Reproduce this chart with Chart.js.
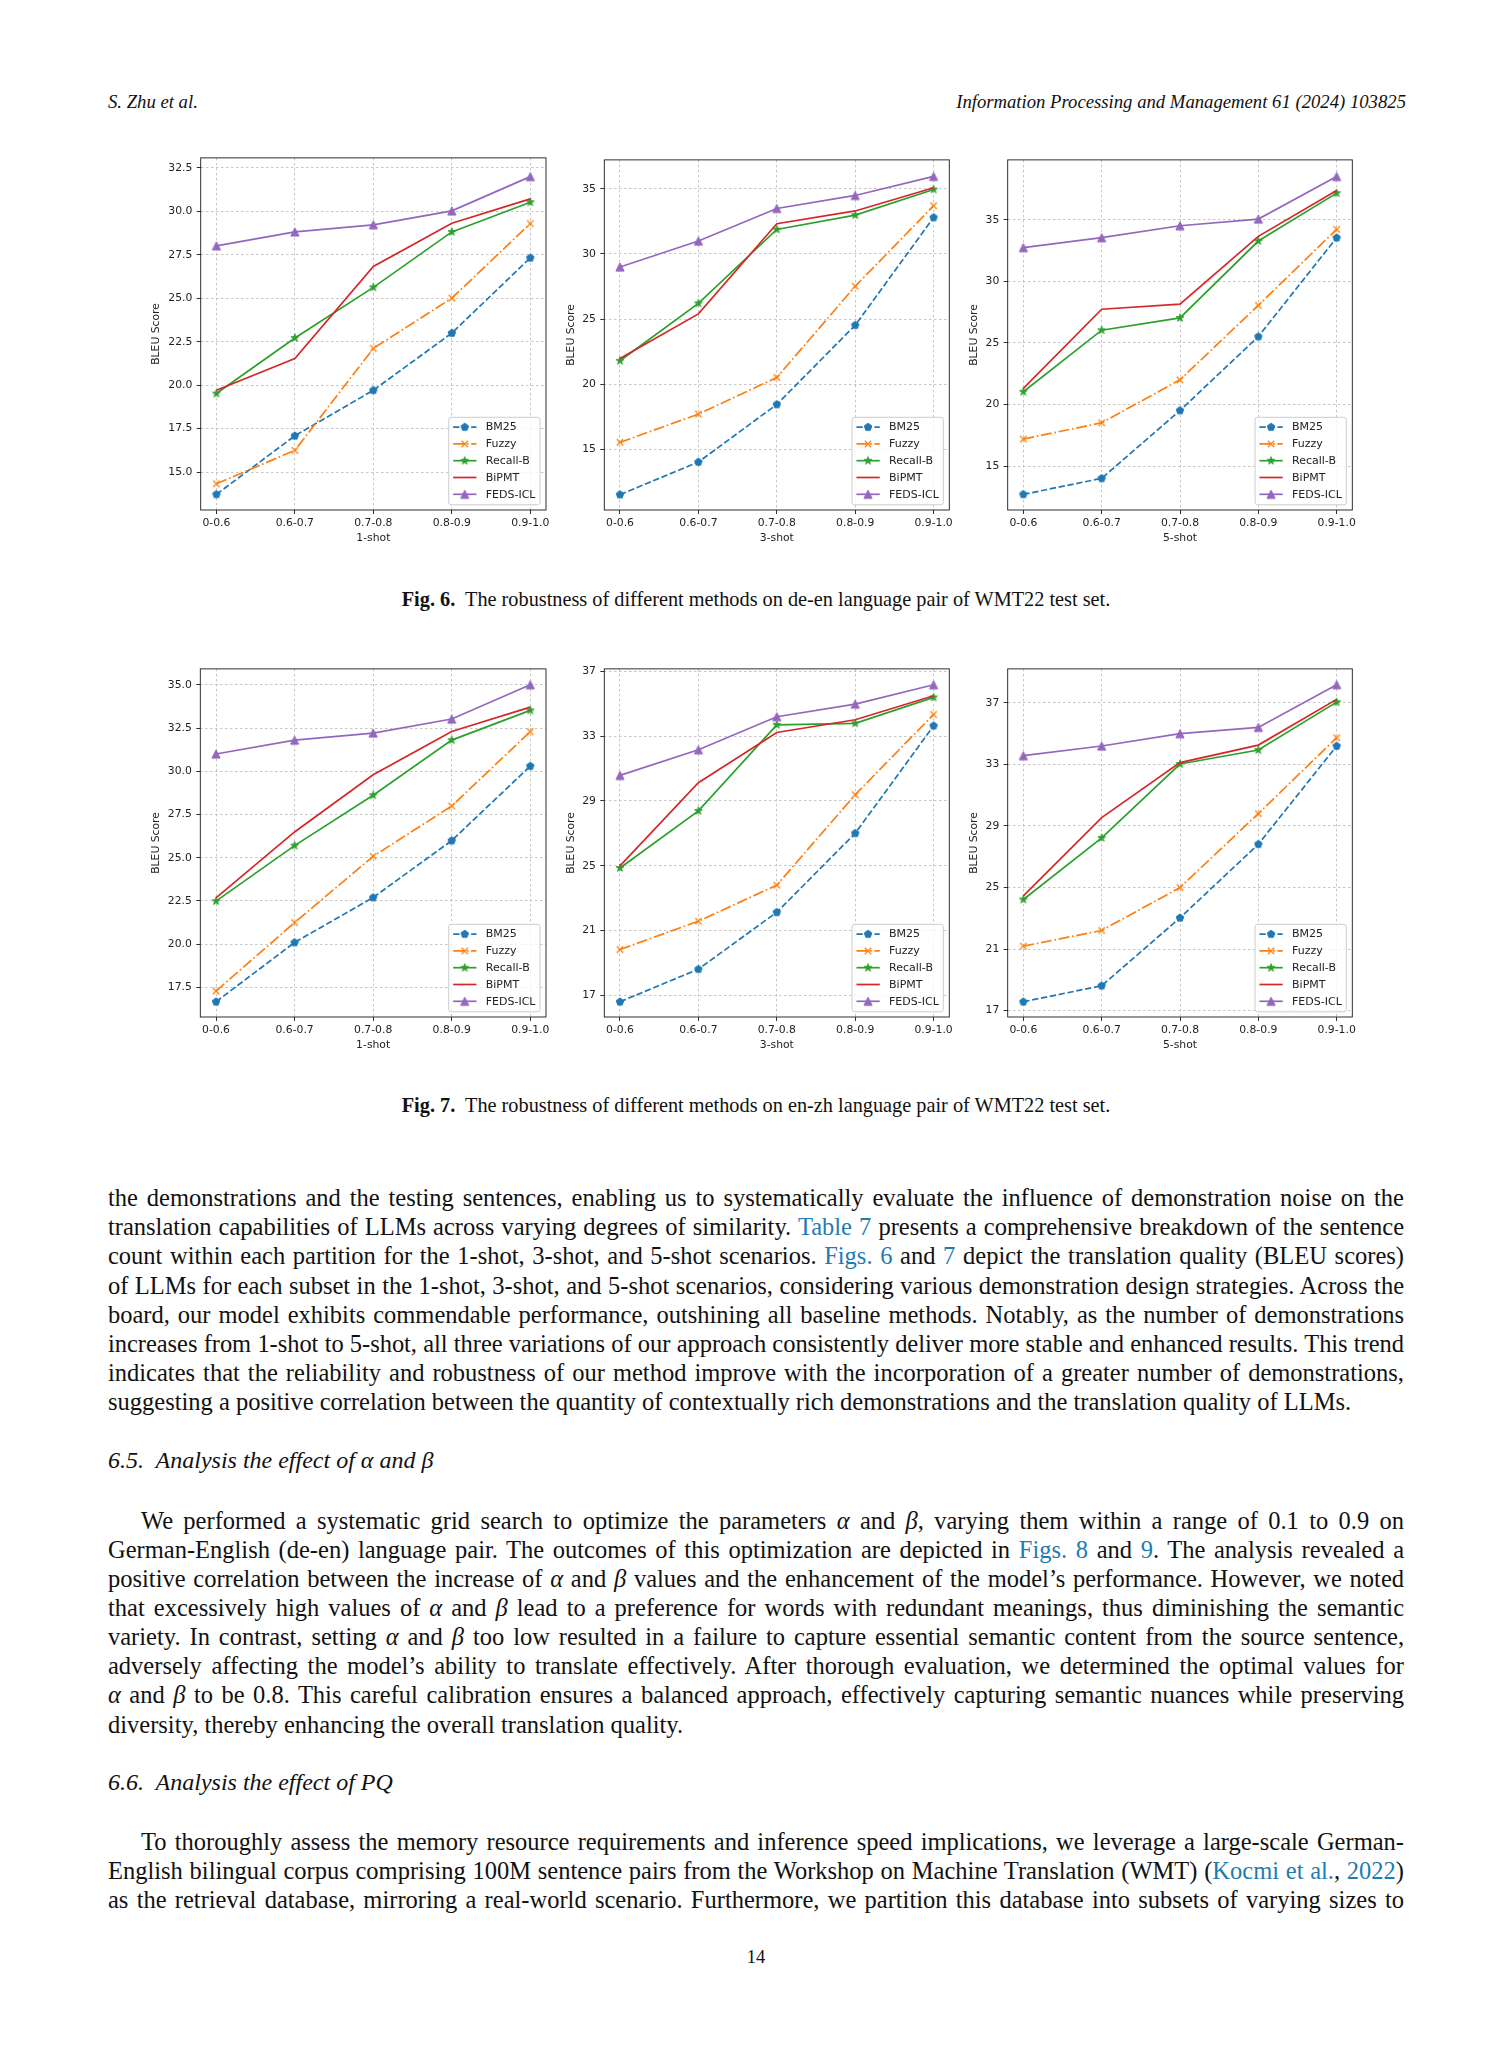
<!DOCTYPE html>
<html><head><meta charset="utf-8">
<script src="https://cdn.jsdelivr.net/npm/chart.js@4.4.0/dist/chart.umd.min.js"></script>
<style>
html,body{margin:0;padding:0;background:#fff;}
body{width:1512px;height:2063px;position:relative;overflow:hidden;font-family:"Liberation Serif","Times New Roman",serif;color:#111;}
.hdr{position:absolute;top:90px;font-size:18.7px;line-height:24px;font-style:italic;white-space:nowrap;}
.cap{position:absolute;left:0;width:1512px;text-align:center;font-size:20.3px;line-height:26px;white-space:nowrap;}
.ln{position:absolute;left:108px;width:1296px;font-size:24.5px;line-height:29px;white-space:nowrap;text-align:left;}
.ln.ind{left:141px;width:1263px;}
.hd{position:absolute;left:108px;font-size:24px;line-height:29px;font-style:italic;white-space:nowrap;}
.lk{color:#1f7bb0;}
.pg{position:absolute;left:0;width:1512px;text-align:center;top:1945px;font-size:18.5px;line-height:24px;}
canvas{position:absolute;}
</style>
</head><body>

<div class="hdr" style="left:108px;">S. Zhu et al.</div>
<div class="hdr" style="right:106px;">Information Processing and Management 61 (2024) 103825</div>

<div class="cap" style="top:586px;"><b>Fig. 6.</b>&nbsp; The robustness of different methods on de-en language pair of WMT22 test set.</div>
<div class="cap" style="top:1092px;"><b>Fig. 7.</b>&nbsp; The robustness of different methods on en-zh language pair of WMT22 test set.</div>

<div class="ln" style="top:1183px;">the demonstrations and the testing sentences, enabling us to systematically evaluate the influence of demonstration noise on the</div>
<div class="ln" style="top:1212px;">translation capabilities of LLMs across varying degrees of similarity. <span class="lk">Table 7</span> presents a comprehensive breakdown of the sentence</div>
<div class="ln" style="top:1241px;">count within each partition for the 1-shot, 3-shot, and 5-shot scenarios. <span class="lk">Figs. 6</span> and <span class="lk">7</span> depict the translation quality (BLEU scores)</div>
<div class="ln" style="top:1270.5px;">of LLMs for each subset in the 1-shot, 3-shot, and 5-shot scenarios, considering various demonstration design strategies. Across the</div>
<div class="ln" style="top:1299.7px;">board, our model exhibits commendable performance, outshining all baseline methods. Notably, as the number of demonstrations</div>
<div class="ln" style="top:1328.8px;">increases from 1-shot to 5-shot, all three variations of our approach consistently deliver more stable and enhanced results. This trend</div>
<div class="ln" style="top:1358px;">indicates that the reliability and robustness of our method improve with the incorporation of a greater number of demonstrations,</div>
<div class="ln last" style="top:1387px;">suggesting a positive correlation between the quantity of contextually rich demonstrations and the translation quality of LLMs.</div>

<div class="hd" style="top:1446px;">6.5.&nbsp; Analysis the effect of α and β</div>

<div class="ln ind" style="top:1505.5px;">We performed a systematic grid search to optimize the parameters <i>α</i> and <i>β</i>, varying them within a range of 0.1 to 0.9 on</div>
<div class="ln" style="top:1534.6px;">German-English (de-en) language pair. The outcomes of this optimization are depicted in <span class="lk">Figs. 8</span> and <span class="lk">9</span>. The analysis revealed a</div>
<div class="ln" style="top:1563.8px;">positive correlation between the increase of <i>α</i> and <i>β</i> values and the enhancement of the model’s performance. However, we noted</div>
<div class="ln" style="top:1592.9px;">that excessively high values of <i>α</i> and <i>β</i> lead to a preference for words with redundant meanings, thus diminishing the semantic</div>
<div class="ln" style="top:1622.1px;">variety. In contrast, setting <i>α</i> and <i>β</i> too low resulted in a failure to capture essential semantic content from the source sentence,</div>
<div class="ln" style="top:1651.2px;">adversely affecting the model’s ability to translate effectively. After thorough evaluation, we determined the optimal values for</div>
<div class="ln" style="top:1680.4px;"><i>α</i> and <i>β</i> to be 0.8. This careful calibration ensures a balanced approach, effectively capturing semantic nuances while preserving</div>
<div class="ln last" style="top:1709.5px;">diversity, thereby enhancing the overall translation quality.</div>

<div class="hd" style="top:1767.5px;">6.6.&nbsp; Analysis the effect of PQ</div>

<div class="ln ind" style="top:1826.6px;">To thoroughly assess the memory resource requirements and inference speed implications, we leverage a large-scale German-</div>
<div class="ln" style="top:1855.8px;">English bilingual corpus comprising 100M sentence pairs from the Workshop on Machine Translation (WMT) (<span class="lk">Kocmi et al.</span>, <span class="lk">2022</span>)</div>
<div class="ln" style="top:1884.9px;">as the retrieval database, mirroring a real-world scenario. Furthermore, we partition this database into subsets of varying sizes to</div>

<div class="pg">14</div>

<script>
// fit justified text lines (shrink letter spacing only where a line would overflow)
document.querySelectorAll('.ln').forEach(el => {
  const target = el.clientWidth;
  const span = document.createElement('span');
  while (el.firstChild) span.appendChild(el.firstChild);
  el.appendChild(span);
  const w = span.getBoundingClientRect().width;
  if (w > target - 3) {
    const n = span.textContent.length;
    el.style.letterSpacing = ((target - 3 - w) / n) + 'px';
  }
  if (!el.classList.contains('last')) { el.style.textAlign = 'justify'; el.style.textAlignLast = 'justify'; }
});

// ---------- data ----------
const categories = ['0-0.6', '0.6-0.7', '0.7-0.8', '0.8-0.9', '0.9-1.0'];
const methodNames = ['BM25', 'Fuzzy', 'Recall-B', 'BiPMT', 'FEDS-ICL'];
const shotLabels = ['1-shot', '3-shot', '5-shot'];

// Fig. 6 (de-en)
const deEn1_BM25    = [13.72, 17.09, 19.71, 23.00, 27.33];
const deEn1_Fuzzy   = [14.33, 16.25, 22.12, 25.01, 29.30];
const deEn1_RecallB = [19.52, 22.72, 25.63, 28.82, 30.53];
const deEn1_BiPMT   = [19.71, 21.53, 26.83, 29.32, 30.72];
const deEn1_FEDS    = [28.02, 28.82, 29.23, 30.03, 32.00];

const deEn3_BM25    = [11.53, 14.03, 18.45, 24.53, 32.80];
const deEn3_Fuzzy   = [15.54, 17.71, 20.52, 27.52, 33.70];
const deEn3_RecallB = [21.80, 26.21, 31.88, 32.98, 34.95];
const deEn3_BiPMT   = [21.97, 25.40, 32.32, 33.30, 35.08];
const deEn3_FEDS    = [29.00, 30.99, 33.49, 34.49, 35.95];

const deEn5_BM25    = [12.70, 14.00, 19.51, 25.51, 33.54];
const deEn5_Fuzzy   = [17.19, 18.51, 22.00, 28.05, 34.22];
const deEn5_RecallB = [21.03, 26.03, 27.03, 33.27, 37.16];
const deEn5_BiPMT   = [21.30, 27.73, 28.14, 33.65, 37.38];
const deEn5_FEDS    = [32.73, 33.54, 34.51, 35.05, 38.51];

// Fig. 7 (en-zh)
const enZh1_BM25    = [16.67, 20.10, 22.70, 25.99, 30.30];
const enZh1_Fuzzy   = [17.29, 21.25, 25.08, 27.99, 32.29];
const enZh1_RecallB = [22.49, 25.70, 28.61, 31.80, 33.52];
const enZh1_BiPMT   = [22.68, 26.49, 29.80, 32.30, 33.71];
const enZh1_FEDS    = [31.00, 31.80, 32.21, 33.02, 35.00];

const enZh3_BM25    = [16.61, 18.62, 22.13, 27.00, 33.63];
const enZh3_Fuzzy   = [19.83, 21.58, 23.80, 29.38, 34.33];
const enZh3_RecallB = [24.86, 28.38, 33.69, 33.78, 35.38];
const enZh3_BiPMT   = [24.99, 30.12, 33.22, 34.00, 35.48];
const enZh3_FEDS    = [30.57, 32.15, 34.19, 34.97, 36.16];

const enZh5_BM25    = [17.58, 18.62, 23.03, 27.81, 34.19];
const enZh5_Fuzzy   = [21.19, 22.21, 25.00, 29.80, 34.73];
const enZh5_RecallB = [24.22, 28.22, 33.02, 33.93, 37.04];
const enZh5_BiPMT   = [24.46, 29.54, 33.11, 34.25, 37.22];
const enZh5_FEDS    = [33.56, 34.19, 34.99, 35.40, 38.17];

// y tick labels
const yTicksDeEn1 = [15, 17.5, 20, 22.5, 25, 27.5, 30, 32.5];
const yTicksDeEn3 = [15, 20, 25, 30, 35];
const yTicksDeEn5 = [15, 20, 25, 30, 35];
const yTicksEnZh1 = [17.5, 20, 22.5, 25, 27.5, 30, 32.5, 35];
const yTicksEnZh3 = [17, 21, 25, 29, 33, 37];
const yTicksEnZh5 = [17, 21, 25, 29, 33, 37];

// ---------- layout (page pixel positions of plot areas) ----------
const panels = [
  {plot:[200.7,157.3,546,510],  ylab:44.7, range:[12.82,33.08], ticks:yTicksDeEn1, dec:1, xTitle:shotLabels[0],
   series:[deEn1_BM25,deEn1_Fuzzy,deEn1_RecallB,deEn1_BiPMT,deEn1_FEDS]},
  {plot:[604.3,159.3,949.3,510], ylab:33.3, range:[10.35,37.22], ticks:yTicksDeEn3, dec:0, xTitle:shotLabels[1],
   series:[deEn3_BM25,deEn3_Fuzzy,deEn3_RecallB,deEn3_BiPMT,deEn3_FEDS]},
  {plot:[1007.7,159.3,1352.3,510], ylab:33.7, range:[11.43,39.86], ticks:yTicksDeEn5, dec:0, xTitle:shotLabels[2],
   series:[deEn5_BM25,deEn5_Fuzzy,deEn5_RecallB,deEn5_BiPMT,deEn5_FEDS]},
  {plot:[200.3,668.3,546,1017], ylab:43.6, range:[15.79,35.92], ticks:yTicksEnZh1, dec:1, xTitle:shotLabels[0],
   series:[enZh1_BM25,enZh1_Fuzzy,enZh1_RecallB,enZh1_BiPMT,enZh1_FEDS]},
  {plot:[604.3,668.3,949.3,1017], ylab:33.3, range:[15.67,37.14], ticks:yTicksEnZh3, dec:0, xTitle:shotLabels[1],
   series:[enZh3_BM25,enZh3_Fuzzy,enZh3_RecallB,enZh3_BiPMT,enZh3_FEDS]},
  {plot:[1007.7,668.3,1352.3,1017], ylab:33.7, range:[16.59,39.2], ticks:yTicksEnZh5, dec:0, xTitle:shotLabels[2],
   series:[enZh5_BM25,enZh5_Fuzzy,enZh5_RecallB,enZh5_BiPMT,enZh5_FEDS]},
];

// ---------- marker images ----------
function makeMarker(size, draw) {
  const c = document.createElement('canvas');
  c.width = size; c.height = size;
  const g = c.getContext('2d');
  g.translate(size / 2, size / 2);
  draw(g);
  return c;
}
function pentagon(color) {
  return makeMarker(12, g => {
    g.beginPath();
    const r = 3.9;
    for (let k = 0; k < 5; k++) { const a = -Math.PI / 2 + k * 2 * Math.PI / 5; g.lineTo(r * Math.cos(a), r * Math.sin(a)); }
    g.closePath(); g.fillStyle = color; g.fill(); g.strokeStyle = color; g.lineWidth = 1; g.stroke();
  });
}
function xMark(color) {
  return makeMarker(12, g => {
    const r = 3.2;
    g.beginPath(); g.moveTo(-r, -r); g.lineTo(r, r); g.moveTo(-r, r); g.lineTo(r, -r);
    g.strokeStyle = color; g.lineWidth = 1.3; g.stroke();
  });
}
function star(color) {
  return makeMarker(12, g => {
    const ro = 4.2, ri = 1.7;
    g.beginPath();
    for (let k = 0; k < 10; k++) { const r = k % 2 ? ri : ro; const a = -Math.PI / 2 + k * Math.PI / 5; g.lineTo(r * Math.cos(a), r * Math.sin(a)); }
    g.closePath(); g.fillStyle = color; g.fill(); g.strokeStyle = color; g.lineWidth = 0.8; g.stroke();
  });
}
function triangle(color) {
  return makeMarker(12, g => {
    const h = 4.1;
    g.beginPath(); g.moveTo(0, -h); g.lineTo(-h, h); g.lineTo(h, h); g.closePath();
    g.fillStyle = color; g.fill(); g.strokeStyle = color; g.lineWidth = 1; g.stroke();
  });
}

const methodColors = ['#1f77b4', '#ff7f0e', '#2ca02c', '#d62728', '#9467bd'];
const methodDash = [[6.3, 2.7], [10.9, 2.7, 1.7, 2.7], [], [], []];
const methodMarkers = [pentagon(methodColors[0]), xMark(methodColors[1]), star(methodColors[2]), null, triangle(methodColors[4])];

Chart.defaults.font.family = '"DejaVu Sans", sans-serif';
Chart.defaults.color = '#222';

const framePlugin = {
  id: 'frame',
  afterDraw(chart) {
    const a = chart.chartArea, ctx = chart.ctx;
    ctx.save(); ctx.strokeStyle = '#1a1a1a'; ctx.lineWidth = 0.9;
    ctx.strokeRect(a.left, a.top, a.right - a.left, a.bottom - a.top);
    ctx.restore();
  }
};

const boxLegendPlugin = {
  id: 'boxLegend',
  afterDatasetsDraw(chart) {
    const a = chart.chartArea, ctx = chart.ctx, ds = chart.data.datasets;
    ctx.save();
    ctx.font = '11px "DejaVu Sans", sans-serif';
    let tw = 0;
    ds.forEach(d => { tw = Math.max(tw, ctx.measureText(d.label).width); });
    const pitch = 16.8, w = 37 + tw + 4.5, h = 87.5;
    const x0 = a.right - 6 - w, y0 = a.bottom - 5.2 - h;
    ctx.beginPath();
    if (ctx.roundRect) ctx.roundRect(x0, y0, w, h, 2.5); else ctx.rect(x0, y0, w, h);
    ctx.fillStyle = 'rgba(255,255,255,0.8)'; ctx.fill();
    ctx.strokeStyle = '#cccccc'; ctx.lineWidth = 1; ctx.stroke();
    ds.forEach((d, i) => {
      const y = y0 + 9.8 + i * pitch;
      ctx.beginPath(); ctx.setLineDash(d.borderDash || []);
      ctx.moveTo(x0 + 4.4, y); ctx.lineTo(x0 + 27.7, y);
      ctx.strokeStyle = d.borderColor; ctx.lineWidth = d.borderWidth; ctx.stroke();
      ctx.setLineDash([]);
      if (d.pointStyle && typeof d.pointStyle === 'object') {
        ctx.drawImage(d.pointStyle, x0 + 16 - d.pointStyle.width / 2, y - d.pointStyle.height / 2);
      }
      ctx.fillStyle = '#222'; ctx.textBaseline = 'middle'; ctx.textAlign = 'left';
      ctx.fillText(d.label, x0 + 37, y + 0.5);
    });
    ctx.restore();
  }
};

panels.forEach(p => {
  const [L, T, R, B] = p.plot;
  const yw0 = p.ylab + 6.5, padT0 = 10, padR0 = 24, xh0 = 34.8;
  const cl = Math.round(L - yw0), ct = Math.round(T - padT0);
  const cr = Math.round(R + padR0), cb = Math.round(B + xh0);
  const yw = L - cl, padT = T - ct, padR = cr - R, xh = cb - B;
  const cv = document.createElement('canvas');
  cv.width = cr - cl; cv.height = cb - ct;
  cv.style.left = cl + 'px'; cv.style.top = ct + 'px';
  cv.style.width = (cr - cl) + 'px'; cv.style.height = (cb - ct) + 'px';
  document.body.appendChild(cv);

  const datasets = p.series.map((vals, i) => ({
    label: methodNames[i],
    data: vals.map((v, k) => ({x: k, y: v})),
    borderColor: methodColors[i],
    backgroundColor: methodColors[i],
    borderWidth: 1.7,
    borderDash: methodDash[i],
    pointStyle: methodMarkers[i] || 'circle',
    pointRadius: methodMarkers[i] ? 4 : 0,
    pointHoverRadius: methodMarkers[i] ? 4 : 0,
    tension: 0,
    fill: false,
    order: methodNames.length - 1 - i,
  }));

  new Chart(cv, {
    type: 'line',
    data: {datasets},
    plugins: [framePlugin, boxLegendPlugin],
    options: {
      responsive: false, animation: false, events: [],
      devicePixelRatio: 1,
      layout: {padding: {left: 0, top: padT, right: padR, bottom: 0}},
      plugins: {legend: {display: false}, tooltip: {enabled: false}},
      scales: {
        x: {
          type: 'linear', min: -0.2, max: 4.2,
          afterBuildTicks: s => { s.ticks = categories.map((c, i) => ({value: i})); },
          afterFit: s => { s.height = xh; },
          ticks: {callback: (v, i) => categories[i], autoSkip: false, maxRotation: 0, minRotation: 0,
                  padding: 3, color: '#222', font: {size: 10.8}},
          grid: {color: '#b8b8b8', lineWidth: 0.8, tickColor: '#1a1a1a', tickLength: 4, tickWidth: 0.9},
          border: {display: false, dash: [2.5, 2.5]},
          title: {display: true, text: p.xTitle, color: '#222', font: {size: 10.8}, padding: 0}
        },
        y: {
          type: 'linear', min: p.range[0], max: p.range[1],
          afterBuildTicks: s => { s.ticks = p.ticks.map(v => ({value: v})); },
          afterFit: s => { s.width = yw; },
          ticks: {callback: (v, i) => p.ticks[i].toFixed(p.dec), padding: 4.4, color: '#222', font: {size: 10.8}},
          grid: {color: '#b8b8b8', lineWidth: 0.8, tickColor: '#1a1a1a', tickLength: 4, tickWidth: 0.9},
          border: {display: false, dash: [2.5, 2.5]},
          title: {display: true, text: 'BLEU Score', color: '#222', font: {size: 10.8}, padding: 0}
        }
      }
    }
  });
});
</script>
</body></html>
